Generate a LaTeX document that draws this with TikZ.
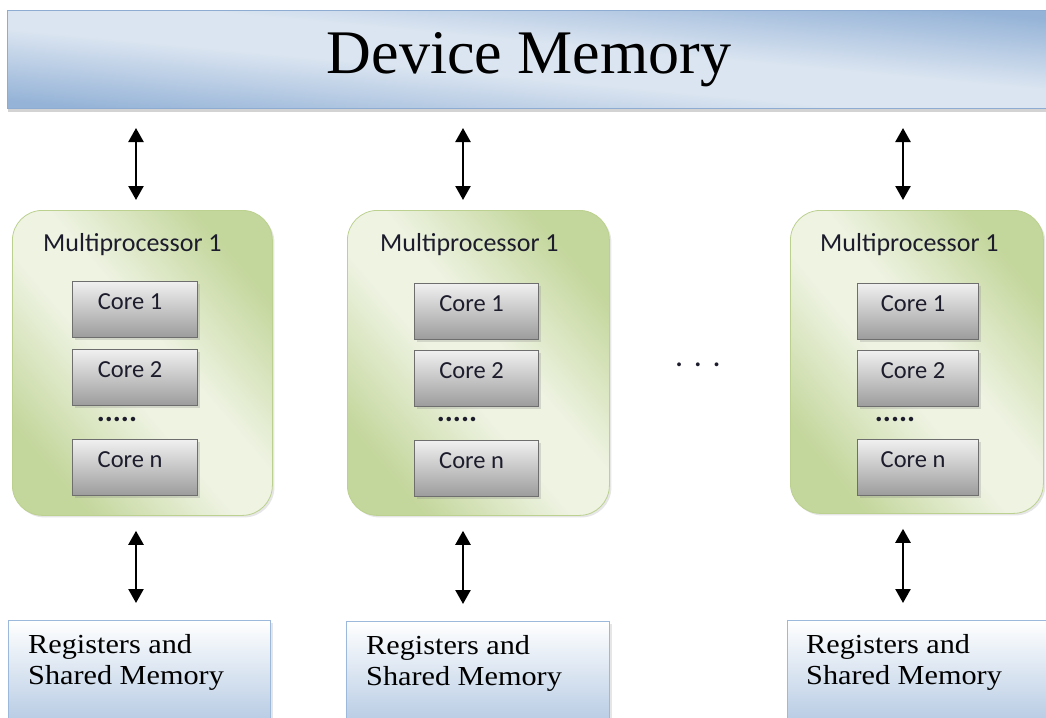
\documentclass[tikz,border=0pt]{standalone}
\usepackage{fontspec}
\setmainfont{Liberation Serif}
\newfontfamily\calfont{Carlito}
\newfontfamily\regfont{Liberation Serif}[FakeStretch=1.1]
\usetikzlibrary{arrows.meta,shadows}

\definecolor{blueLt}{HTML}{DBE5F1}
\definecolor{blueDk}{HTML}{95B3D7}
\definecolor{blueEdge}{HTML}{8EACD2}
\definecolor{greenLt}{HTML}{EEF3E2}
\definecolor{greenDk}{HTML}{C3D69B}
\definecolor{greenEdge}{HTML}{BCD190}
\definecolor{coreTop}{HTML}{F0F0F0}
\definecolor{coreBot}{HTML}{9C9C9C}
\definecolor{coreEdge}{HTML}{6E6E6E}
\definecolor{regDk}{HTML}{B8CCE4}
\definecolor{regEdge}{HTML}{9CB9DC}
\definecolor{inkText}{HTML}{1C1C2C}

% two-tone gradients: dark - light - dark across the inner 25bp..75bp range;
% rotated so that the bands follow the box's top-left/bottom-right diagonal
\pgfdeclareverticalshading{bluediag}{100bp}{color(0bp)=(blueDk); color(25bp)=(blueDk); color(45bp)=(blueLt); color(55bp)=(blueLt); color(75bp)=(blueDk); color(100bp)=(blueDk)}
\pgfdeclareverticalshading{greendiag}{100bp}{color(0bp)=(greenDk); color(25bp)=(greenDk); color(45bp)=(greenLt); color(55bp)=(greenLt); color(75bp)=(greenDk); color(100bp)=(greenDk)}

\tikzset{
  devbar/.style={draw=blueEdge, line width=1pt, shade, shading=bluediag, shading angle=-5.37,
    anchor=north west, inner sep=0pt, minimum width=1043pt, minimum height=98pt,
    font=\fontsize{62}{70}\selectfont,
    drop shadow={shadow xshift=0pt, shadow yshift=-3pt, opacity=0.35}},
  mpbox/.style n args={3}{draw=greenEdge, line width=0.8pt, rounded corners=30pt,
    shade, shading=greendiag, shading angle=#3, anchor=north west, inner sep=0pt,
    minimum width=#1pt, minimum height=#2pt,
    drop shadow={shadow xshift=2pt, shadow yshift=-2pt, opacity=0.2}},
  mplabel/.style={anchor=base west, inner sep=0pt, text=inkText,
    font=\calfont\fontsize{26}{30}\selectfont},
  corebox/.style={draw=coreEdge, line width=1.2pt, top color=coreTop, bottom color=coreBot,
    anchor=north west, inner xsep=0pt, inner ysep=0pt, minimum width=125pt,
    text height=28pt, text depth=28pt, text=inkText,
    font=\calfont\fontsize{24.5}{28}\selectfont,
    drop shadow={shadow xshift=2pt, shadow yshift=-2pt, opacity=0.25}},
  coredots/.style={anchor=base, inner sep=0pt, text=inkText,
    font=\calfont\bfseries\fontsize{30}{30}\selectfont},
  regbox/.style={draw=regEdge, line width=1pt, top color=white, bottom color=regDk,
    anchor=north west, inner sep=0pt, minimum height=100pt,
    drop shadow={shadow xshift=2pt, shadow yshift=-2pt, opacity=0.2}},
  regtext/.style={anchor=north west, align=left, inner sep=0pt,
    font=\regfont\fontsize{27.5}{31.5}\selectfont},
  link/.style={{Triangle[width=15pt,length=14pt]}-{Triangle[width=15pt,length=14pt]}, line width=2.4pt}
}
% core label, set a little left of the box centre
\newcommand{\corelabel}[1]{#1\hspace*{10pt}}

\begin{document}
\begin{tikzpicture}[x=1pt, y=-1pt]
  \useasboundingbox (0,0) rectangle (1046,717);
  \clip (0,0) rectangle (1046,717);

  % global memory bar
  \node[devbar] (dev) at (7,10) {Device Memory};

  % streaming multiprocessors
  \node[mpbox={260}{305}{-49.55}] (mp1) at (12,210) {};
  \node[mpbox={262}{305}{-49.34}] (mp2) at (347,210) {};
  \node[mpbox={253}{303}{-50.14}] (mp3) at (790,210) {};

  \node[mplabel] (mp1t) at (43,251) {Multiprocessor 1};
  \node[mplabel] (mp2t) at (380,251) {Multiprocessor 1};
  \node[mplabel] (mp3t) at (820,251) {Multiprocessor 1};

  % cores of the first multiprocessor
  \node[corebox] (c11) at (72,281) {\corelabel{Core 1}};
  \node[corebox] (c12) at (72,349) {\corelabel{Core 2}};
  \node[coredots] (d1) at (117,421) {.....};
  \node[corebox] (c1n) at (72,439) {\corelabel{Core n}};

  % cores of the second multiprocessor
  \node[corebox, minimum width=124pt] (c21) at (414,283) {\corelabel{Core 1}};
  \node[corebox, minimum width=124pt] (c22) at (414,350) {\corelabel{Core 2}};
  \node[coredots] (d2) at (457,421) {.....};
  \node[corebox, minimum width=124pt] (c2n) at (414,440) {\corelabel{Core n}};

  % cores of the last multiprocessor
  \node[corebox, minimum width=121pt] (c31) at (857,283) {\corelabel{Core 1}};
  \node[corebox, minimum width=121pt] (c32) at (857,350) {\corelabel{Core 2}};
  \node[coredots] (d3) at (895,421) {.....};
  \node[corebox, minimum width=121pt] (c3n) at (857,439) {\corelabel{Core n}};

  % further multiprocessors omitted
  \node[anchor=base, inner sep=0pt, text=inkText, font=\calfont\fontsize{32}{32}\selectfont]
    (gap) at (698,366) {.\,\,.\,\,.};

  % per-multiprocessor storage
  \node[regbox, minimum width=262pt] (reg1) at (8,620) {};
  \node[regbox, minimum width=263pt] (reg2) at (346,621) {};
  \node[regbox, minimum width=290pt] (reg3) at (787,620) {};

  \node[regtext] (reg1t) at (28,634) {Registers and\\Shared Memory};
  \node[regtext] (reg2t) at (366,635) {Registers and\\Shared Memory};
  \node[regtext] (reg3t) at (806,634) {Registers and\\Shared Memory};

  % arrow columns
  \coordinate (ax1) at (136,0);
  \coordinate (ax2) at (463,0);
  \coordinate (ax3) at (903,0);

  \draw[link, shorten <=19pt, shorten >=10pt] (ax1 |- dev.south) -- (ax1 |- mp1.north);
  \draw[link, shorten <=19pt, shorten >=10pt] (ax2 |- dev.south) -- (ax2 |- mp2.north);
  \draw[link, shorten <=19pt, shorten >=10pt] (ax3 |- dev.south) -- (ax3 |- mp3.north);

  \draw[link, shorten <=15pt, shorten >=17pt] (ax1 |- mp1.south) -- (ax1 |- reg1.north);
  \draw[link, shorten <=15pt, shorten >=17pt] (ax2 |- mp2.south) -- (ax2 |- reg2.north);
  \draw[link, shorten <=15pt, shorten >=17pt] (ax3 |- mp3.south) -- (ax3 |- reg3.north);
\end{tikzpicture}
\end{document}
